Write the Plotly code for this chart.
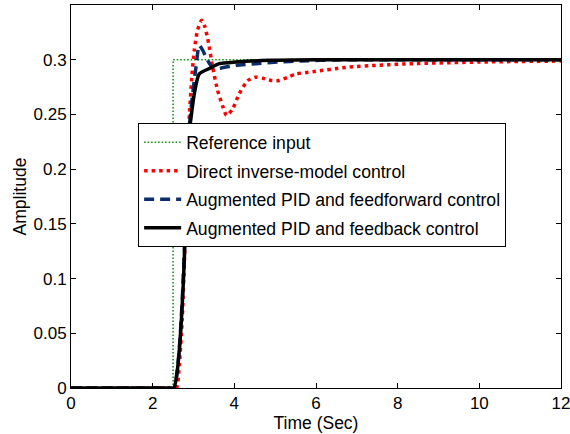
import plotly.graph_objects as go

# Reference input (step)
t_ref = [0, 2.5, 2.5, 12]
y_ref = [0, 0, 0.3, 0.3]

# Direct inverse-model control
t_dir = [0, 2.4, 2.58, 2.65, 2.72, 2.78, 2.83, 2.9, 2.96, 3.02, 3.1, 3.2, 3.28, 3.37, 3.47, 3.59,
         3.72, 3.81, 3.96, 4.12, 4.33, 4.52, 4.70, 4.90, 5.1, 5.31, 5.51, 5.92, 6.74, 7.56,
         8.37, 10.0, 12]
y_dir = [0, 0, 0, 0.02, 0.06, 0.12, 0.2, 0.25, 0.285, 0.309, 0.327, 0.336, 0.330, 0.315, 0.293,
         0.272, 0.257, 0.249, 0.255, 0.269, 0.281, 0.284, 0.283, 0.281, 0.281, 0.284, 0.287,
         0.289, 0.293, 0.295, 0.2964, 0.2979, 0.2988]

# Augmented PID and feedforward control
t_ff = [0, 2.4, 2.52, 2.6, 2.67, 2.72, 2.76, 2.79, 2.82, 2.9, 2.98, 3.06, 3.14, 3.22, 3.31, 3.42,
        3.55, 4.04, 4.53, 5.1, 5.6, 6.5, 12]
y_ff = [0, 0, 0, 0.015, 0.045, 0.078, 0.11, 0.14, 0.2, 0.24, 0.269, 0.293, 0.313, 0.309, 0.302,
        0.295, 0.292, 0.295, 0.2964, 0.2979, 0.2988, 0.2998, 0.3]

# Augmented PID and feedback control
t_fb = [0, 2.4, 2.52, 2.6, 2.67, 2.72, 2.76, 2.79, 2.81, 2.86, 2.92, 3.02, 3.14, 3.39, 3.63, 4.04,
        4.86, 6, 12]
y_fb = [0, 0, 0, 0.015, 0.043, 0.0735, 0.104, 0.135, 0.2, 0.225, 0.2415, 0.269, 0.287, 0.292,
        0.2964, 0.2979, 0.2995, 0.3, 0.3]

x_ticks = [0, 2, 4, 6, 8, 10, 12]
y_ticks = [0, 0.05, 0.1, 0.15, 0.2, 0.25, 0.3]
y_tick_text = ["0", "0.05", "0.1", "0.15", "0.2", "0.25", "0.3"]

FONT = "Liberation Sans, Arial, sans-serif"

fig = go.Figure()
fig.add_trace(go.Scatter(x=t_ref, y=y_ref, mode="lines", name="Reference input",
                         legendgroup="a",
                         line=dict(color="#108c10", width=1.5, dash="1.5px,2px")))
fig.add_trace(go.Scatter(x=t_dir, y=y_dir, mode="lines", name="Direct inverse-model control",
                         legendgroup="b",
                         line=dict(color="#ff0000", width=3.5, dash="3.5px,4px", shape="spline",
                                   smoothing=0.6)))
fig.add_trace(go.Scatter(x=t_ff, y=y_ff, mode="lines",
                         name="Augmented PID and feedforward control",
                         legendgroup="c",
                         line=dict(color="#0c2d6b", width=3.5, dash="10px,6px", shape="spline",
                                   smoothing=0.6)))
fig.add_trace(go.Scatter(x=t_fb, y=y_fb, mode="lines",
                         name="Augmented PID and feedback control",
                         legendgroup="d",
                         line=dict(color="#000000", width=3.5, shape="spline", smoothing=0.6)))

axis_common = dict(showline=True, linecolor="black", linewidth=1, mirror="allticks",
                   ticks="inside", ticklen=5, tickcolor="black", showgrid=False,
                   zeroline=False, ticklabeloverflow="allow", automargin=False,
                   tickfont=dict(family=FONT, size=17, color="black"))

fig.update_xaxes(range=[0, 12], tickvals=x_ticks, title=dict(text="Time (Sec)",
                 font=dict(family=FONT, size=17.5, color="black"), standoff=3), **axis_common)
fig.update_yaxes(range=[0, 0.35], tickvals=y_ticks, ticktext=y_tick_text,
                 title=dict(text="Amplitude", font=dict(family=FONT, size=17.5, color="black"),
                            standoff=2), **axis_common)

fig.update_layout(
    width=570, height=434,
    margin=dict(l=71, r=9, t=5, b=46),
    plot_bgcolor="white", paper_bgcolor="white",
    font=dict(family=FONT, size=17, color="black"),
    legend=dict(x=0.137, y=0.691, xanchor="left", yanchor="top",
                bgcolor="white", bordercolor="black", borderwidth=1,
                font=dict(family=FONT, size=17.6, color="black"),
                itemwidth=37,
                tracegroupgap=2.6, traceorder="grouped"),
    showlegend=True,
)

fig.write_html("out.html")
